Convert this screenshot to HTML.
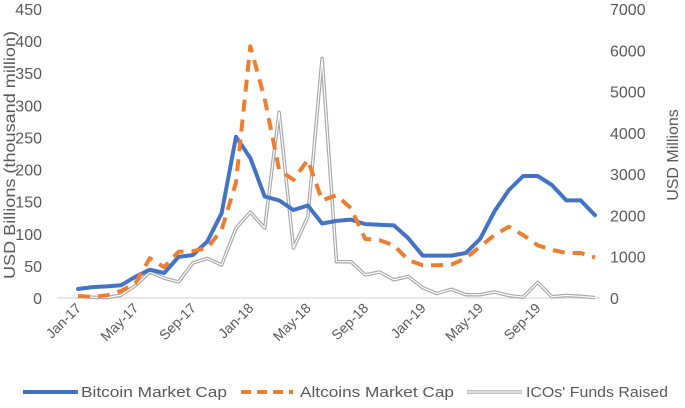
<!DOCTYPE html>
<html><head><meta charset="utf-8"><style>
html,body{margin:0;padding:0;background:#fff;}
svg{display:block;font-family:"Liberation Sans",sans-serif;}
</style></head><body>
<svg id="chart" width="685" height="408" viewBox="0 0 685 408">
<g id="axes"></g><g id="series"></g>
<g>
  <line x1="23" y1="392" x2="78" y2="392" stroke="#4472C4" stroke-width="4"/>
  <text x="81" y="397" font-size="15" textLength="146" lengthAdjust="spacingAndGlyphs" fill="#595959">Bitcoin Market Cap</text>
  <line x1="241" y1="392" x2="293" y2="392" stroke="#ED7D31" stroke-width="4" stroke-dasharray="10,6"/>
  <text x="300" y="397" font-size="15" textLength="154" lengthAdjust="spacingAndGlyphs" fill="#595959">Altcoins Market Cap</text>
  <line x1="467" y1="392" x2="522" y2="392" stroke="#A6A6A6" stroke-width="3.5"/>
  <line x1="467" y1="392" x2="522" y2="392" stroke="#fff" stroke-width="1.2"/>
  <text x="526" y="397" font-size="15" textLength="142" lengthAdjust="spacingAndGlyphs" fill="#595959">ICOs' Funds Raised</text>
</g>
</svg>
<script>
const months = ["Jan-17","Feb-17","Mar-17","Apr-17","May-17","Jun-17","Jul-17","Aug-17","Sep-17","Oct-17","Nov-17","Dec-17","Jan-18","Feb-18","Mar-18","Apr-18","May-18","Jun-18","Jul-18","Aug-18","Sep-18","Oct-18","Nov-18","Dec-18","Jan-19","Feb-19","Mar-19","Apr-19","May-19","Jun-19","Jul-19","Aug-19","Sep-19","Oct-19","Nov-19","Dec-19","Jan-20"];
const bitcoin = [14,17,18,20,33,44,39,64,67,88,132,251,218,158,152,137,144,116,120,122,115,114,113,93,66,66,66,70,92,135,168,190,190,176,152,152,129];
const altcoins = [3,2,4,11,23,62,48,72,73,78,106,180,392,310,200,184,215,152,160,140,92,90,82,59,51,51,52,62,80,98,111,98,82,75,70,70,63];
const icos = [50,20,10,70,300,630,480,390,850,960,800,1690,2080,1690,4500,1210,1960,5800,880,880,560,630,440,520,250,110,210,80,80,145,60,20,380,30,60,40,10];
const leftTicks = [0,50,100,150,200,250,300,350,400,450];
const rightTicks = [0,1000,2000,3000,4000,5000,6000,7000];
const xLabels = ["Jan-17","May-17","Sep-17","Jan-18","May-18","Sep-18","Jan-19","May-19","Sep-19"];

const NS="http://www.w3.org/2000/svg";
const x0=78, x1=595, yBase=298, yTop=9;
const xs = i => x0 + i*(x1-x0)/(months.length-1);
const yL = v => yBase - v/450*(yBase-yTop);
const yR = v => yBase - v/7000*(yBase-yTop);
function mk(tag, attrs, parent){const e=document.createElementNS(NS,tag);for(const k in attrs)e.setAttribute(k,attrs[k]);parent.appendChild(e);return e;}
const axes=document.getElementById('axes'), series=document.getElementById('series');

const base=mk('line',{x1:57,y1:yBase,x2:600,y2:yBase,stroke:'#D9D9D9','stroke-width':1.3},axes);


leftTicks.forEach(v=>{
  const t=mk('text',{x:42,y:yL(v)+6,'font-size':16,fill:'#595959','text-anchor':'end'},axes);
  t.textContent=v;
  
  
});
rightTicks.forEach(v=>{
  const t=mk('text',{x:610,y:yR(v)+6,'font-size':16,fill:'#595959'},axes);
  t.textContent=v;
  
  
});
xLabels.forEach(l=>{
  const i=months.indexOf(l); const x=xs(i)+4, y=309;
  const t=mk('text',{x:x,y:y,'font-size':14,fill:'#595959','text-anchor':'end',transform:`rotate(-45 ${x} ${y})`},axes);
  t.textContent=l;
  
  
});
const lt=mk('text',{x:15,y:155,'font-size':16,fill:'#595959','text-anchor':'middle',textLength:248,lengthAdjust:'spacingAndGlyphs',transform:'rotate(-90 15 155)'},axes);
lt.textContent='USD Billions (thousand million)';


const rt=mk('text',{x:678,y:155,'font-size':16,fill:'#595959','text-anchor':'middle',transform:'rotate(-90 678 155)'},axes);
rt.textContent='USD Millions';



function pts(arr,yf){return arr.map((v,i)=>xs(i).toFixed(1)+','+yf(v).toFixed(1)).join(' ');}
const ic=mk('polyline',{points:pts(icos,yR),fill:'none',stroke:'#A6A6A6','stroke-width':3.5,'stroke-linejoin':'round'},series);


mk('polyline',{points:pts(icos,yR),fill:'none',stroke:'#fff','stroke-width':1.2,'stroke-linejoin':'round'},series);
const bt=mk('polyline',{points:pts(bitcoin,yL),fill:'none',stroke:'#4472C4','stroke-width':4,'stroke-linejoin':'round','stroke-linecap':'round'},series);


const al=mk('polyline',{points:pts(altcoins,yL),fill:'none',stroke:'#ED7D31','stroke-width':4,'stroke-dasharray':'12,8','stroke-linejoin':'round'},series);


</script>
</body></html>
